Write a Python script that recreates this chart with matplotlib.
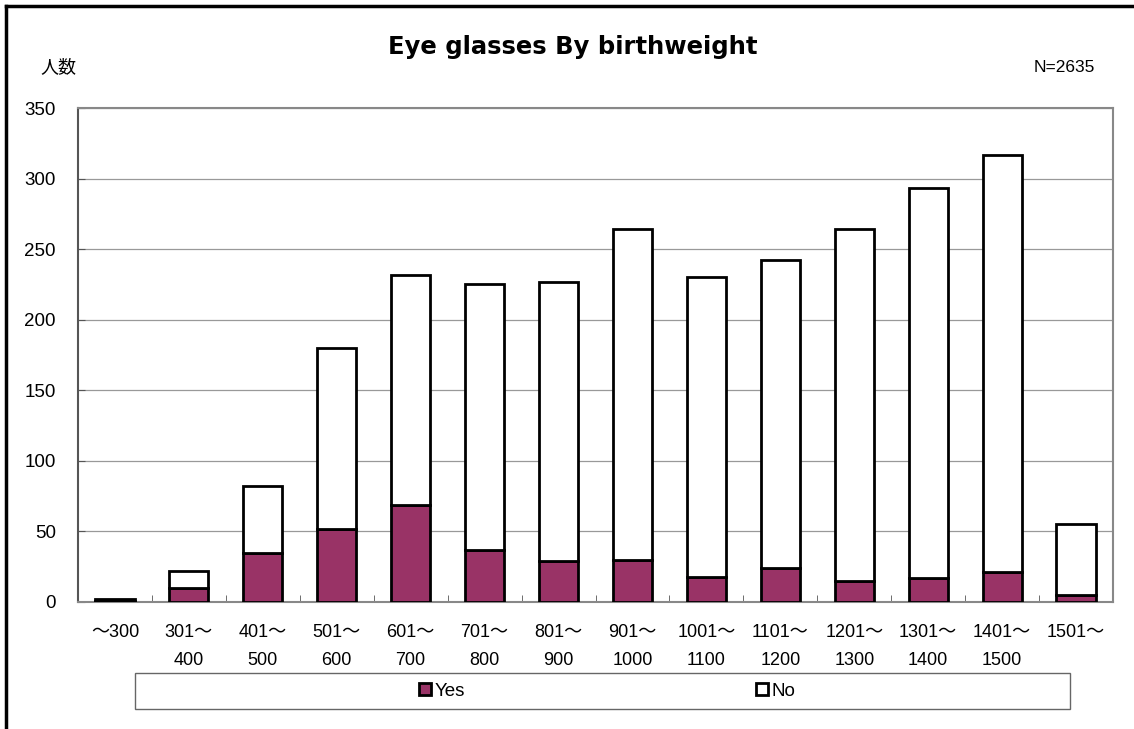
import matplotlib
matplotlib.use("Agg")
import matplotlib.pyplot as plt
from matplotlib.patches import Rectangle
from matplotlib.lines import Line2D
import numpy as np

plt.rcParams['font.family'] = ['Liberation Sans', 'Noto Sans CJK JP']

categories = ['～300', '301～\n400', '401～\n500', '501～\n600', '601～\n700',
              '701～\n800', '801～\n900', '901～\n1000', '1001～\n1100',
              '1101～\n1200', '1201～\n1300', '1301～\n1400', '1401～\n1500',
              '1501～']
totals = [2, 22, 82, 180, 232, 225, 227, 264, 230, 242, 264, 293, 317, 55]
yes_vals = [1, 10, 35, 52, 69, 37, 29, 30, 18, 24, 15, 17, 21, 5]
no_vals = [t - y for t, y in zip(totals, yes_vals)]

W, H = 1134, 729
fig = plt.figure(figsize=(W / 100, H / 100), dpi=100)
ax = fig.add_axes([78 / W, 1 - 602 / H, (1113 - 78) / W, (602 - 108) / H])

x = np.arange(len(categories))
b1 = ax.bar(x, yes_vals, width=0.53, color='#993366', edgecolor='black',
            linewidth=2, label='Yes', zorder=3)
b2 = ax.bar(x, no_vals, bottom=yes_vals, width=0.53, color='white',
            edgecolor='black', linewidth=2, label='No', zorder=3)

ax.set_xlim(-0.5, len(categories) - 0.5)
ax.set_ylim(0, 350)
ax.set_yticks(range(0, 351, 50))
ax.yaxis.grid(True, color='#999999', linewidth=0.9, zorder=0)
ax.set_xticks(x)
ax.set_xticklabels(categories, fontsize=13, linespacing=1.8, va='top')
ax.set_xticks(np.arange(0.5, len(categories) - 1, 1), minor=True)
ax.tick_params(axis='x', which='major', length=0, pad=16)
ax.tick_params(axis='x', which='minor', direction='in', length=5,
               color='#555555')
ax.tick_params(axis='y', direction='in', length=5, color='#555555',
               labelsize=13.5, pad=16)

for side in ['top', 'right', 'bottom']:
    ax.spines[side].set_color('#888888')
    ax.spines[side].set_linewidth(1.5)
ax.spines['left'].set_color('#555555')
ax.spines['left'].set_linewidth(1.5)

fig.text(573 / W, 1 - 47 / H, 'Eye glasses By birthweight', fontsize=17.5,
         fontweight='bold', family='DejaVu Sans', ha='center', va='center')
fig.text(40 / W, 1 - 68 / H, '人数', fontsize=13, ha='left', va='center')
fig.text(1095 / W, 1 - 68 / H, 'N=2635', fontsize=12.5, ha='right', va='center')

# legend box
fig.patches.append(Rectangle((135 / W, 1 - 709 / H), (1070 - 135) / W, 36 / H,
                             transform=fig.transFigure, facecolor='white',
                             edgecolor='#666666', linewidth=1))
fig.legend(handles=[b1, b2], labels=['Yes', 'No'], loc='center',
           bbox_to_anchor=(607 / W, 1 - 691 / H), ncol=2, frameon=False,
           fontsize=13.5, handlelength=0.65, handleheight=0.65,
           handletextpad=0.2, columnspacing=15.5)

# outer border (left and top)
fig.add_artist(Line2D([6 / W, 6 / W], [0, 1 - 6 / H], color='black',
                      linewidth=2.5, transform=fig.transFigure))
fig.add_artist(Line2D([6 / W, 1], [1 - 6 / H, 1 - 6 / H], color='black',
                      linewidth=2.5, transform=fig.transFigure))

fig.savefig('out.png', dpi=100)
